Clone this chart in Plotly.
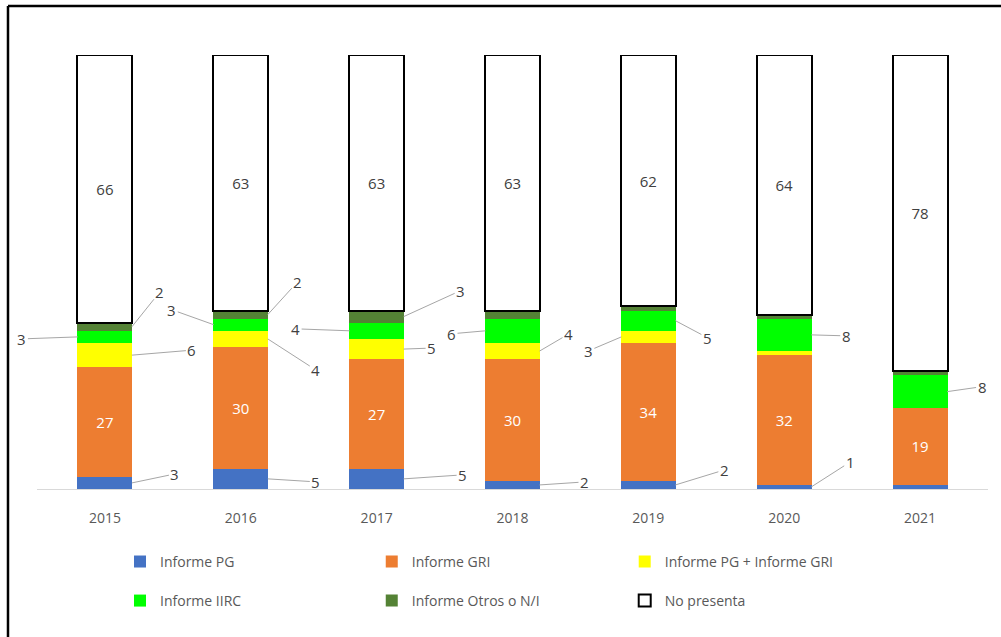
import plotly.graph_objects as go

years = ["2015", "2016", "2017", "2018", "2019", "2020", "2021"]
series_names = ["Informe PG", "Informe GRI", "Informe PG + Informe GRI",
                "Informe IIRC", "Informe Otros o N/I", "No presenta"]
informe_pg = [3, 5, 5, 2, 2, 1, 1]
informe_gri = [27, 30, 27, 30, 34, 32, 19]
informe_pg_gri = [6, 4, 5, 4, 3, 1, 0]
informe_iirc = [3, 3, 4, 6, 5, 8, 8]
informe_otros = [2, 2, 3, 2, 1, 1, 1]
no_presenta = [66, 63, 63, 63, 62, 64, 78]

series_values = [informe_pg, informe_gri, informe_pg_gri, informe_iirc, informe_otros, no_presenta]
colors = ["#4472C4", "#ED7D31", "#FFFF00", "#00FF00", "#548235", "#FFFFFF"]

# outside labels: (series index, year index, side, ax, ay) -- pixel offsets for leader lines
outside_labels = [
    (0, 0, 1, 43, -9), (2, 0, 1, 60, -5), (3, 0, -1, -56, 2), (4, 0, 1, 28, -35),
    (0, 1, 1, 48, 3), (2, 1, 1, 48, 31), (3, 1, -1, -42, -15), (4, 1, 1, 30, -33),
    (0, 2, 1, 59, -4), (2, 2, 1, 28, -1), (3, 2, -1, -54, -2), (4, 2, 1, 57, -26),
    (0, 3, 1, 45, -3), (2, 3, 1, 29, -17), (3, 3, -1, -34, 3),
    (0, 4, 1, 49, -15), (2, 4, -1, -33, 14), (3, 4, 1, 32, 17),
    (0, 5, 1, 39, -25), (3, 5, 1, 35, 1),
    (3, 6, 1, 35, -5),
]

# legend placement (paper coords) for each series
legend_pos = [(0.0873, -0.168), (0.352, -0.168), (0.618, -0.168),
              (0.0873, -0.258), (0.352, -0.258), (0.618, -0.258)]

FONT = "Open Sans"
fig = go.Figure()
for i, (name, vals, col) in enumerate(zip(series_names, series_values, colors)):
    kw = {}
    if i == 1:
        kw = dict(text=[str(v) for v in vals], textposition="inside", insidetextanchor="middle",
                  textfont=dict(color="white", size=15, family=FONT), textangle=0)
    elif i == 5:
        kw = dict(text=[str(v) for v in vals], textposition="inside", insidetextanchor="middle",
                  textfont=dict(color="#404040", size=15, family=FONT), textangle=0)
    fig.add_trace(go.Bar(
        x=years, y=vals, name=name, showlegend=True,
        marker=dict(color=col,
                    line=dict(color="black" if i == 5 else col, width=2 if i == 5 else 0)),
        legend="legend" if i == 0 else f"legend{i + 1}",
        hoverinfo="skip",
        **kw,
    ))

# leader-line labels
annotations = []
for si, yi, side, ax, ay in outside_labels:
    vals = series_values[si]
    base = sum(series_values[k][yi] for k in range(si))
    mid = base + vals[yi] / 2
    annotations.append(dict(
        x=yi, y=mid, xref="x", yref="y", xshift=27 * side,
        text=str(vals[yi]), showarrow=True, arrowhead=0, arrowwidth=1,
        arrowcolor="#A6A6A6", ax=ax, ay=ay, standoff=0,
        font=dict(size=15, color="#404040", family=FONT),
    ))

legends = {}
for i, (lx, ly) in enumerate(legend_pos):
    key = "legend" if i == 0 else f"legend{i + 1}"
    legends[key] = dict(x=lx, y=ly, xanchor="left", yanchor="middle",
                        orientation="h", font=dict(size=14, color="#595959"),
                        bgcolor="rgba(0,0,0,0)")

fig.update_layout(
    width=1001, height=637,
    margin=dict(l=37, r=13, t=55, b=148),
    paper_bgcolor="white", plot_bgcolor="white",
    barmode="stack", bargap=0.596, showlegend=True,
    font=dict(family=FONT, color="#595959", size=13),
    xaxis=dict(type="category", range=[-0.5, 6.5], showline=True, linecolor="#D9D9D9",
               linewidth=1, ticks="", ticklabelstandoff=16,
               tickfont=dict(size=14, color="#595959"), showgrid=False),
    yaxis=dict(visible=False, range=[0, 107], showgrid=False),
    annotations=annotations,
    shapes=[
        dict(type="line", xref="paper", yref="paper", x0=-0.0305, x1=1.02, y0=1.113, y1=1.113,
             line=dict(color="black", width=2.5), layer="above"),
        dict(type="line", xref="paper", yref="paper", x0=-0.0305, x1=-0.0305, y0=-0.4, y1=1.113,
             line=dict(color="black", width=2.5), layer="above"),
    ],
    **legends,
)

fig.write_html("out.html", config={"displayModeBar": False},
               post_script="document.body.style.margin='0';"
                           "document.body.style.overflow='hidden';"
                           "document.documentElement.style.overflow='hidden';")
